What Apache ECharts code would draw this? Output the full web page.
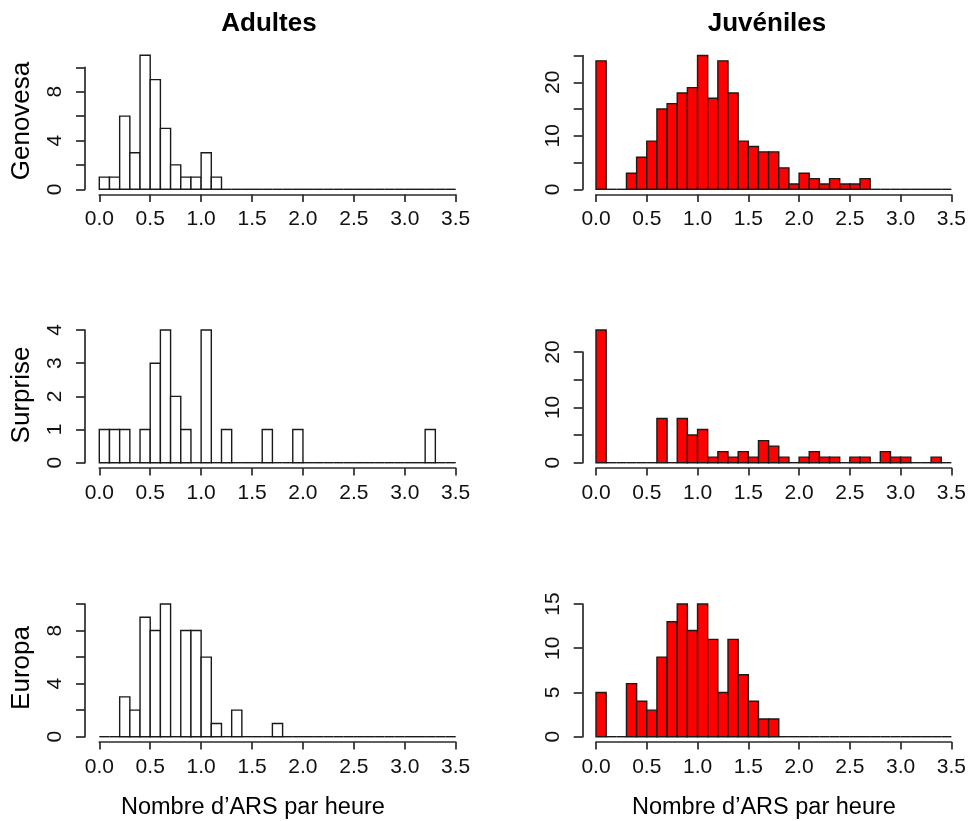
<!DOCTYPE html>
<html>
<head>
<meta charset="utf-8">
<script src="https://cdn.jsdelivr.net/npm/echarts@6/dist/echarts.min.js"></script>
<style>
html,body{margin:0;padding:0;background:#fff;}
#chart{width:969px;height:821px;}
</style>
</head>
<body>
<div id="chart"></div>
<script>
// Histogram breaks (bin edges) shared by every panel
const breaks = [0.0,0.1,0.2,0.3,0.4,0.5,0.6,0.7,0.8,0.9,1.0,1.1,1.2,1.3,1.4,1.5,1.6,1.7,1.8,1.9,2.0,2.1,2.2,2.3,2.4,2.5,2.6,2.7,2.8,2.9,3.0,3.1,3.2,3.3,3.4,3.5];
const xTicks = [0.0,0.5,1.0,1.5,2.0,2.5,3.0,3.5];

// Counts per bin (35 bins of width 0.1)
const genovesaAdultes   = [1,1,6,3,11,9,5,2,1,1,3,1,0,0,0,0,0,0,0,0,0,0,0,0,0,0,0,0,0,0,0,0,0,0,0];
const genovesaJuveniles = [24,0,0,3,6,9,15,16,18,19,25,17,24,18,9,8,7,7,4,1,3,2,1,2,1,1,2,0,0,0,0,0,0,0,0];
const surpriseAdultes   = [1,1,1,0,1,3,4,2,1,0,4,0,1,0,0,0,1,0,0,1,0,0,0,0,0,0,0,0,0,0,0,0,1,0,0];
const surpriseJuveniles = [24,0,0,0,0,0,8,0,8,5,6,1,2,1,2,1,4,3,1,0,1,2,1,1,0,1,1,0,2,1,1,0,0,1,0];
const europaAdultes     = [0,0,3,2,9,8,10,0,8,8,6,1,0,2,0,0,0,1,0,0,0,0,0,0,0,0,0,0,0,0,0,0,0,0,0];
const europaJuveniles   = [5,0,0,6,4,3,9,13,15,12,15,11,5,11,7,4,2,2,0,0,0,0,0,0,0,0,0,0,0,0,0,0,0,0,0];

// Y axis tick settings and labelled ticks
const yMax      = [10, 25, 4, 20, 10, 15];
const yInterval = [2, 5, 1, 5, 2, 5];
const yLabels   = [[0,4,8],[0,10,20],[0,1,2,3,4],[0,10,20],[0,4,8],[0,5,10,15]];

const colTitles = ['Adultes', 'Juvéniles'];
const rowTitles = ['Genovesa', 'Surprise', 'Europa'];
const xName = 'Nombre d\u2019ARS par heure';

const panels = [
  {counts: genovesaAdultes,   fill: '#ffffff'},
  {counts: genovesaJuveniles, fill: '#ff0000'},
  {counts: surpriseAdultes,   fill: '#ffffff'},
  {counts: surpriseJuveniles, fill: '#ff0000'},
  {counts: europaAdultes,     fill: '#ffffff'},
  {counts: europaJuveniles,   fill: '#ff0000'}
];

// layout (pixels)
const colLeft  = [99.3, 596];
const colWidth = [356.4, 356.7];
const colYOff  = [14.3, 13.3];
const rowZero  = [189.3, 462.7, 736.7];
const panelTop = [67.4, 55.5, 330, 352.1, 604, 604];

const FONT = "'Liberation Sans', Arial, sans-serif";
const AX = '#2b2b2b';

const grids = [], xAxes = [], yAxes = [], series = [];
panels.forEach((p, i) => {
  const col = i % 2, row = Math.floor(i / 2);
  grids.push({left: colLeft[col], width: colWidth[col], top: panelTop[i], height: rowZero[row] - panelTop[i], containLabel: false});
  xAxes.push({
    type: 'value', gridIndex: i, min: xTicks[0], max: xTicks[xTicks.length-1], interval: 0.5,
    offset: 5.2,
    axisLine: {show: true, onZero: false, lineStyle: {color: AX, width: 1.7}},
    axisTick: {show: true, length: 7.5, lineStyle: {color: AX, width: 1.7}},
    axisLabel: {show: true, margin: 14.5, fontSize: 21, fontFamily: FONT, color: '#111',
      formatter: v => Number(v).toFixed(1)},
    splitLine: {show: false}
  });
  const lab = yLabels[i];
  yAxes.push({
    type: 'value', gridIndex: i, min: 0, max: yMax[i], interval: yInterval[i],
    position: 'left', offset: colYOff[col],
    axisLine: {show: true, onZero: false, lineStyle: {color: AX, width: 1.7}},
    axisTick: {show: true, length: 9, lineStyle: {color: AX, width: 1.7}},
    axisLabel: {show: true, rotate: 90, margin: 19, fontSize: 21, fontFamily: FONT, color: '#111',
      formatter: v => (lab.indexOf(Number(v)) >= 0 ? String(v) : '')},
    splitLine: {show: false}
  });
  const data = p.counts.map((c, k) => [breaks[k], breaks[k+1], c]);
  series.push({
    type: 'custom', xAxisIndex: i, yAxisIndex: i, clip: false, silent: true,
    encode: {x: [0, 1], y: 2},
    data: data,
    renderItem: (params, api) => {
      const x0 = api.value(0), x1 = api.value(1), c = api.value(2);
      const pTop = api.coord([x0, c]);
      const pBot = api.coord([x1, 0]);
      if (c === 0) {
        return {type: 'line', shape: {x1: pTop[0], y1: pBot[1], x2: pBot[0], y2: pBot[1]},
          style: {stroke: '#1a1a1a', lineWidth: 1.4}};
      }
      return {type: 'rect',
        shape: {x: pTop[0], y: pTop[1], width: pBot[0] - pTop[0], height: pBot[1] - pTop[1]},
        style: {fill: p.fill, stroke: '#1a1a1a', lineWidth: 1.4}};
    }
  });
});

const graphics = [];
const titleX = [269, 767];
colTitles.forEach((t, c) => graphics.push({
  type: 'text', x: titleX[c], y: 24,
  style: {text: t, font: "bold 26px " + FONT, fill: '#000', textAlign: 'center', verticalAlign: 'middle', textVerticalAlign: 'middle'}
}));
const rowY = [121, 395, 668];
rowTitles.forEach((t, r) => graphics.push({
  type: 'text', x: 22, y: rowY[r], rotation: Math.PI / 2,
  style: {text: t, font: "26px " + FONT, fill: '#000', textAlign: 'center', verticalAlign: 'middle', textVerticalAlign: 'middle'}
}));
const capX = [121, 632];
capX.forEach(cx => graphics.push({
  type: 'text', x: cx, y: 808,
  style: {text: xName, font: "23.5px " + FONT, fill: '#000', textAlign: 'left', verticalAlign: 'middle', textVerticalAlign: 'middle'}
}));

const chart = echarts.init(document.getElementById('chart'), null, {renderer: 'canvas'});
chart.setOption({
  animation: false,
  backgroundColor: '#ffffff',
  grid: grids, xAxis: xAxes, yAxis: yAxes, series: series,
  graphic: graphics
});
</script>
</body>
</html>
